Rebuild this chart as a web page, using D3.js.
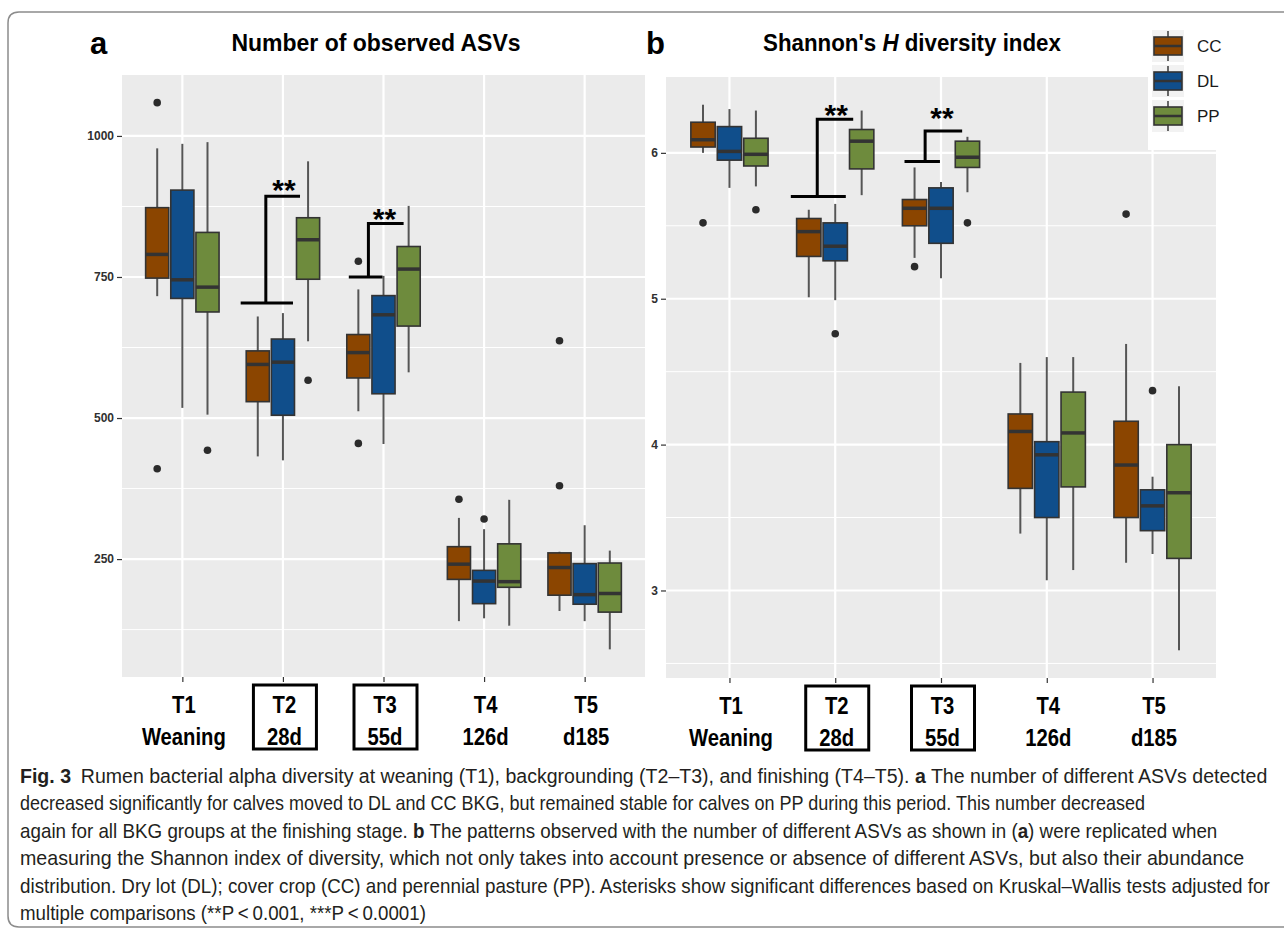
<!DOCTYPE html>
<html>
<head>
<meta charset="utf-8">
<script src="https://cdn.jsdelivr.net/npm/d3@7"></script>
<style>
  body { margin: 0; background: #fff; }
  svg { display: block; }
</style>
</head>
<body>
<div id="fig"></div>
<script>
// categories
var times = ["T1", "T2", "T3", "T4", "T5"];
var timeNames = ["Weaning", "28d", "55d", "126d", "d185"];
var boxedTimes = ["T2", "T3"];
var groups = ["CC", "DL", "PP"];

// panel a - observed ASVs: [lower whisker, Q1, median, Q3, upper whisker] for T1..T5
var asvCC = [[716, 748, 790, 873, 978], [432, 529, 595, 619, 680], [512, 571, 616, 648, 728], [140, 214, 241, 272, 323], [158, 186, 235, 261, 263]];
var asvDL = [[518, 712, 745, 904, 986], [425, 505, 599, 640, 686], [454, 543, 683, 717, 752], [145, 171, 211, 230, 303], [140, 170, 187, 242, 310]];
var asvPP = [[506, 688, 732, 829, 989], [636, 746, 816, 855, 955], [581, 663, 764, 804, 876], [132, 200, 210, 277, 355], [90, 156, 189, 243, 265]];
var asvOutliers = [["T1", "CC", 1059], ["T1", "CC", 410], ["T1", "PP", 443], ["T2", "PP", 567],
                   ["T3", "CC", 778], ["T3", "CC", 455], ["T4", "CC", 356], ["T4", "DL", 321],
                   ["T5", "CC", 637], ["T5", "CC", 380]];
var asvTicks = [250, 500, 750, 1000];
var asvMinor = [125, 375, 625, 875];
var asvSig = [["T2", 704, 893, 917], ["T3", 750, 845, 865]];   // time, bracket low, bracket high, star level

// panel b - Shannon's H
var shCC = [[6.00, 6.04, 6.09, 6.21, 6.33], [5.01, 5.29, 5.46, 5.55, 5.61], [5.28, 5.50, 5.62, 5.68, 5.90], [3.39, 3.70, 4.09, 4.21, 4.56], [3.19, 3.50, 3.86, 4.16, 4.69]];
var shDL = [[5.76, 5.95, 6.01, 6.18, 6.30], [4.99, 5.26, 5.36, 5.52, 5.65], [5.14, 5.38, 5.62, 5.76, 5.80], [3.07, 3.50, 3.93, 4.02, 4.60], [3.25, 3.41, 3.58, 3.69, 3.78]];
var shPP = [[5.77, 5.91, 5.99, 6.10, 6.29], [5.71, 5.89, 6.08, 6.16, 6.29], [5.73, 5.90, 5.97, 6.08, 6.11], [3.14, 3.71, 4.08, 4.36, 4.60], [2.59, 3.22, 3.67, 4.00, 4.40]];
var shOutliers = [["T1", "CC", 5.52], ["T1", "PP", 5.61], ["T2", "DL", 4.76], ["T3", "CC", 5.22],
                  ["T3", "PP", 5.52], ["T5", "CC", 5.58], ["T5", "DL", 4.37]];
var shTicks = [3, 4, 5, 6];
var shMinor = [2.5, 3.5, 4.5, 5.5];
var shSig = [["T2", 5.70, 6.23, 6.31], ["T3", 5.94, 6.15, 6.29]];

var colors = {CC: "#8B4500", DL: "#104E8B", PP: "#6E8B3D"};
// bracket shape, in units of category step: bottom left/right, riser, top right end
var bracketShape = {T2: [-0.42, 0.10, -0.17, 0.17], T3: [-0.345, -0.01, -0.15, 0.2]};

var font = "'Liberation Sans', Arial, Helvetica, sans-serif";

var svg = d3.select("#fig").append("svg")
    .attr("width", 1284)
    .attr("height", 929);

svg.append("rect").attr("width", 1284).attr("height", 929).attr("fill", "#fff");

// rounded figure frame
svg.append("path")
    .attr("d", "M1300,12 H19 Q8,12 8,23 V916 Q8,927 19,927 H1300")
    .attr("fill", "none")
    .attr("stroke", "#8c8c8c")
    .attr("stroke-width", 1.5);

function drawPanel(p) {
  var g = svg.append("g");

  var x = d3.scalePoint().domain(times).range([p.left, p.right]).padding(0.6);
  var step = x.step();
  var sub = d3.scaleBand().domain(groups).range([-0.375 * step, 0.375 * step]);
  var bw = sub.bandwidth() * 0.92;
  var y = d3.scaleLinear().domain(p.domain).range([p.bottom, p.top]);

  g.append("rect")
    .attr("x", p.left).attr("y", p.top)
    .attr("width", p.right - p.left).attr("height", p.bottom - p.top)
    .attr("fill", "#ebebeb");

  g.selectAll(".minor").data(p.minor).enter().append("line")
    .attr("x1", p.left).attr("x2", p.right)
    .attr("y1", function(d) { return y(d); }).attr("y2", function(d) { return y(d); })
    .attr("stroke", "#fff").attr("stroke-width", 1);

  g.selectAll(".major").data(p.ticks).enter().append("line")
    .attr("x1", p.left).attr("x2", p.right)
    .attr("y1", function(d) { return y(d); }).attr("y2", function(d) { return y(d); })
    .attr("stroke", "#fff").attr("stroke-width", 2.2);

  g.selectAll(".vgrid").data(times).enter().append("line")
    .attr("x1", function(d) { return x(d); }).attr("x2", function(d) { return x(d); })
    .attr("y1", p.top).attr("y2", p.bottom)
    .attr("stroke", "#fff").attr("stroke-width", 2.2);

  // y axis
  var ya = g.append("g")
    .attr("transform", "translate(" + p.left + ",0)")
    .call(d3.axisLeft(y).tickValues(p.ticks).tickFormat(d3.format("d")).tickSize(5).tickPadding(3));
  ya.select(".domain").remove();
  ya.selectAll(".tick line").attr("stroke", "#333").attr("stroke-width", 1.2);
  ya.selectAll(".tick text")
    .style("font-family", font).style("font-size", "12px").style("font-weight", "bold")
    .attr("fill", "#303030");

  // x axis
  var xa = g.append("g")
    .attr("transform", "translate(0," + p.bottom + ")")
    .call(d3.axisBottom(x).tickSize(5).tickFormat(""));
  xa.select(".domain").remove();
  xa.selectAll(".tick line").attr("stroke", "#333").attr("stroke-width", 1.2);
  xa.selectAll(".tick").each(function(d, i) {
    var t = d3.select(this);
    var lab = t.append("g").attr("transform", "translate(1,0) scale(0.88,1)");
    lab.append("text").attr("y", 36).text(d);
    lab.append("text").attr("y", 68).text(timeNames[i]);
    lab.selectAll("text")
      .attr("text-anchor", "middle")
      .attr("fill", "#000")
      .style("font-family", font).style("font-size", "23px").style("font-weight", "bold");
    if (boxedTimes.indexOf(d) >= 0) {
      t.append("rect")
        .attr("x", -30).attr("y", 8).attr("width", 63).attr("height", 64)
        .attr("fill", "none").attr("stroke", "#000").attr("stroke-width", 3);
    }
  });

  // boxes
  var rows = [];
  groups.forEach(function(gr) {
    p.stats[gr].forEach(function(s, i) {
      rows.push({t: times[i], g: gr, s: s, cx: x(times[i]) + sub(gr) + sub.bandwidth() / 2});
    });
  });

  var bx = g.append("g").selectAll("g").data(rows).enter().append("g");
  bx.append("line")
    .attr("x1", function(d) { return d.cx; }).attr("x2", function(d) { return d.cx; })
    .attr("y1", function(d) { return y(d.s[0]); }).attr("y2", function(d) { return y(d.s[1]); })
    .attr("stroke", "#555").attr("stroke-width", 2);
  bx.append("line")
    .attr("x1", function(d) { return d.cx; }).attr("x2", function(d) { return d.cx; })
    .attr("y1", function(d) { return y(d.s[3]); }).attr("y2", function(d) { return y(d.s[4]); })
    .attr("stroke", "#555").attr("stroke-width", 2);
  bx.append("rect")
    .attr("x", function(d) { return d.cx - bw / 2; })
    .attr("width", bw)
    .attr("y", function(d) { return y(d.s[3]); })
    .attr("height", function(d) { return y(d.s[1]) - y(d.s[3]); })
    .attr("fill", function(d) { return colors[d.g]; })
    .attr("stroke", "#333").attr("stroke-width", 1.6);
  bx.append("line")
    .attr("x1", function(d) { return d.cx - bw / 2; }).attr("x2", function(d) { return d.cx + bw / 2; })
    .attr("y1", function(d) { return y(d.s[2]); }).attr("y2", function(d) { return y(d.s[2]); })
    .attr("stroke", "#333").attr("stroke-width", 3.5);

  g.append("g").selectAll("circle").data(p.outliers).enter().append("circle")
    .attr("cx", function(d) { return x(d[0]) + sub(d[1]) + sub.bandwidth() / 2; })
    .attr("cy", function(d) { return y(d[2]); })
    .attr("r", 3.8)
    .attr("fill", "#2b2b2b");

  // significance brackets
  p.sig.forEach(function(s) {
    var cx = x(s[0]), b = bracketShape[s[0]];
    g.append("path")
      .attr("d", "M" + (cx + b[0] * step) + "," + y(s[1]) + "H" + (cx + b[1] * step) +
                 "M" + (cx + b[2] * step) + "," + y(s[1]) + "V" + y(s[2]) + "H" + (cx + b[3] * step))
      .attr("fill", "none").attr("stroke", "#000").attr("stroke-width", 3);
    g.append("text")
      .attr("x", cx + 1).attr("y", y(s[3]) + 17)
      .attr("text-anchor", "middle")
      .style("font-family", font).style("font-size", "30px").style("font-weight", "bold")
      .text("**");
  });
}

drawPanel({left: 122, right: 645, top: 75, bottom: 677, domain: [41, 1108],
           ticks: asvTicks, minor: asvMinor, outliers: asvOutliers, sig: asvSig,
           stats: {CC: asvCC, DL: asvDL, PP: asvPP}});
drawPanel({left: 666, right: 1216, top: 77, bottom: 678, domain: [2.40, 6.52],
           ticks: shTicks, minor: shMinor, outliers: shOutliers, sig: shSig,
           stats: {CC: shCC, DL: shDL, PP: shPP}});

// panel letters and titles
svg.append("text").attr("x", 90).attr("y", 54).text("a")
  .style("font-family", font).style("font-size", "31px").style("font-weight", "bold");
svg.append("text").attr("x", 646).attr("y", 54).text("b")
  .style("font-family", font).style("font-size", "31px").style("font-weight", "bold");

svg.append("g").attr("transform", "translate(376,51) scale(0.958,1)")
  .append("text")
  .attr("text-anchor", "middle")
  .style("font-family", font).style("font-size", "24px").style("font-weight", "bold")
  .text("Number of observed ASVs");

var t2 = svg.append("g").attr("transform", "translate(912,51) scale(0.93,1)")
  .append("text")
  .attr("text-anchor", "middle")
  .style("font-family", font).style("font-size", "24px").style("font-weight", "bold");
t2.append("tspan").text("Shannon's ");
t2.append("tspan").style("font-style", "italic").text("H");
t2.append("tspan").text(" diversity index");

// legend
svg.append("rect").attr("x", 1148).attr("y", 20).attr("width", 140).attr("height", 130).attr("fill", "#fff");
var lg = svg.append("g").selectAll("g").data(groups).enter().append("g")
  .attr("transform", function(d, i) { return "translate(1152," + (30 + i * 35) + ")"; });
lg.append("rect").attr("width", 32).attr("height", 32).attr("fill", "#f2f2f2");
lg.append("line").attr("x1", 16).attr("x2", 16).attr("y1", 1).attr("y2", 31)
  .attr("stroke", "#444").attr("stroke-width", 1.6);
lg.append("rect").attr("x", 2).attr("y", 7).attr("width", 28).attr("height", 18)
  .attr("fill", function(d) { return colors[d]; }).attr("stroke", "#333").attr("stroke-width", 1.6);
lg.append("line").attr("x1", 2).attr("x2", 30).attr("y1", 16).attr("y2", 16)
  .attr("stroke", "#333").attr("stroke-width", 2.5);
lg.append("text").attr("x", 45).attr("y", 22).text(function(d) { return d; })
  .style("font-family", font).style("font-size", "17px").attr("fill", "#1a1a1a");

// caption, each line squeezed horizontally to the width it has in the figure
var caption = [
  [["Fig. 3", true], ["\u2002Rumen bacterial alpha diversity at weaning (T1), backgrounding (T2\u2013T3), and finishing (T4\u2013T5). ", false], ["a", true], [" The number of different ASVs detected", false]],
  [["decreased significantly for calves moved to DL and CC BKG, but remained stable for calves on PP during this period. This number decreased", false]],
  [["again for all BKG groups at the finishing stage. ", false], ["b", true], [" The patterns observed with the number of different ASVs as shown in (", false], ["a", true], [") were replicated when", false]],
  [["measuring the Shannon index of diversity, which not only takes into account presence or absence of different ASVs, but also their abundance", false]],
  [["distribution. Dry lot (DL); cover crop (CC) and perennial pasture (PP). Asterisks show significant differences based on Kruskal\u2013Wallis tests adjusted for", false]],
  [["multiple comparisons (**P\u2009<\u20090.001, ***P\u2009<\u20090.0001)", false]]
];
var capWidths = [1248, 1126, 1198, 1225, 1250, 406];

caption.forEach(function(line, i) {
  var holder = svg.append("g");
  var t = holder.append("text")
    .attr("fill", "#231f20")
    .style("font-family", font).style("font-size", "20px");
  line.forEach(function(part) {
    t.append("tspan").style("font-weight", part[1] ? "bold" : "normal").text(part[0]);
  });
  var w = t.node().getComputedTextLength();
  holder.attr("transform", "translate(20," + (783 + i * 27.4) + ") scale(" + (capWidths[i] / w) + ",1)");
});
</script>
</body>
</html>
